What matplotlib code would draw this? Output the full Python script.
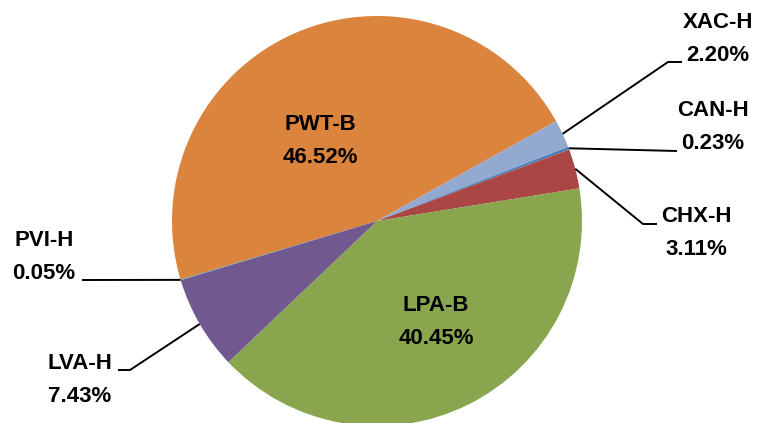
import numpy as np
import matplotlib
matplotlib.use("Agg")
import matplotlib.pyplot as plt

# data (clockwise order, starting with PWT-B)
labels = ["PWT-B", "XAC-H", "CAN-H", "CHX-H", "LPA-B", "LVA-H", "PVI-H"]
shares = [46.52, 2.20, 0.23, 3.11, 40.45, 7.43, 0.05]
colors = ["#DB843D", "#93A9CF", "#4A7EBB", "#AA4643", "#89A54E", "#71588F", "#4198AF"]

W, H = 757, 423


def Y(p):
    # pixel row -> data y
    return H - p


fig = plt.figure(figsize=(W / 100, H / 100), dpi=100)
ax = fig.add_axes([0, 0, 1, 1])

cx, cy, r = 377, Y(221), 205
wedges, _ = ax.pie(shares, colors=colors, startangle=-163.4, counterclock=False,
                   center=(cx, cy), radius=r, wedgeprops=dict(linewidth=0))
ax.set_xlim(0, W)
ax.set_ylim(0, H)
ax.set_aspect("equal")
ax.axis("off")

font = dict(family=["Liberation Sans", "DejaVu Sans"], fontweight="bold", fontsize=16,
            color="black", ha="center", va="center", linespacing=1.75)

# inside labels
inside = {"PWT-B": (320, 140.5), "LPA-B": (436, 322)}
# outside labels: text centre, leader elbow points (pixels)
outside = {
    "XAC-H": ((718, 39), [(668, 62), (682, 62)]),
    "CAN-H": ((713, 126.5), [(677, 151)]),
    "CHX-H": ((696, 232.5), [(643, 224), (657, 224)]),
    "PVI-H": ((44, 257), [(82, 280)]),
    "LVA-H": ((80, 380), [(130, 370), (118, 370)]),
}

for w, lab, val in zip(wedges, labels, shares):
    txt = f"{lab}\n{val:.2f}%"
    if lab in inside:
        x, y = inside[lab]
        ax.text(x, Y(y), txt, **font)
        continue
    (tx, ty), pts = outside[lab]
    ax.text(tx, Y(ty), txt, **font)
    mid = np.deg2rad((w.theta1 + w.theta2) / 2)
    sx, sy = cx + r * np.cos(mid), cy + r * np.sin(mid)
    xs = [sx] + [p[0] for p in pts]
    ys = [sy] + [Y(p[1]) for p in pts]
    ax.plot(xs, ys, color="black", linewidth=1.4, solid_capstyle="butt")

fig.savefig("out.png", dpi=100)
